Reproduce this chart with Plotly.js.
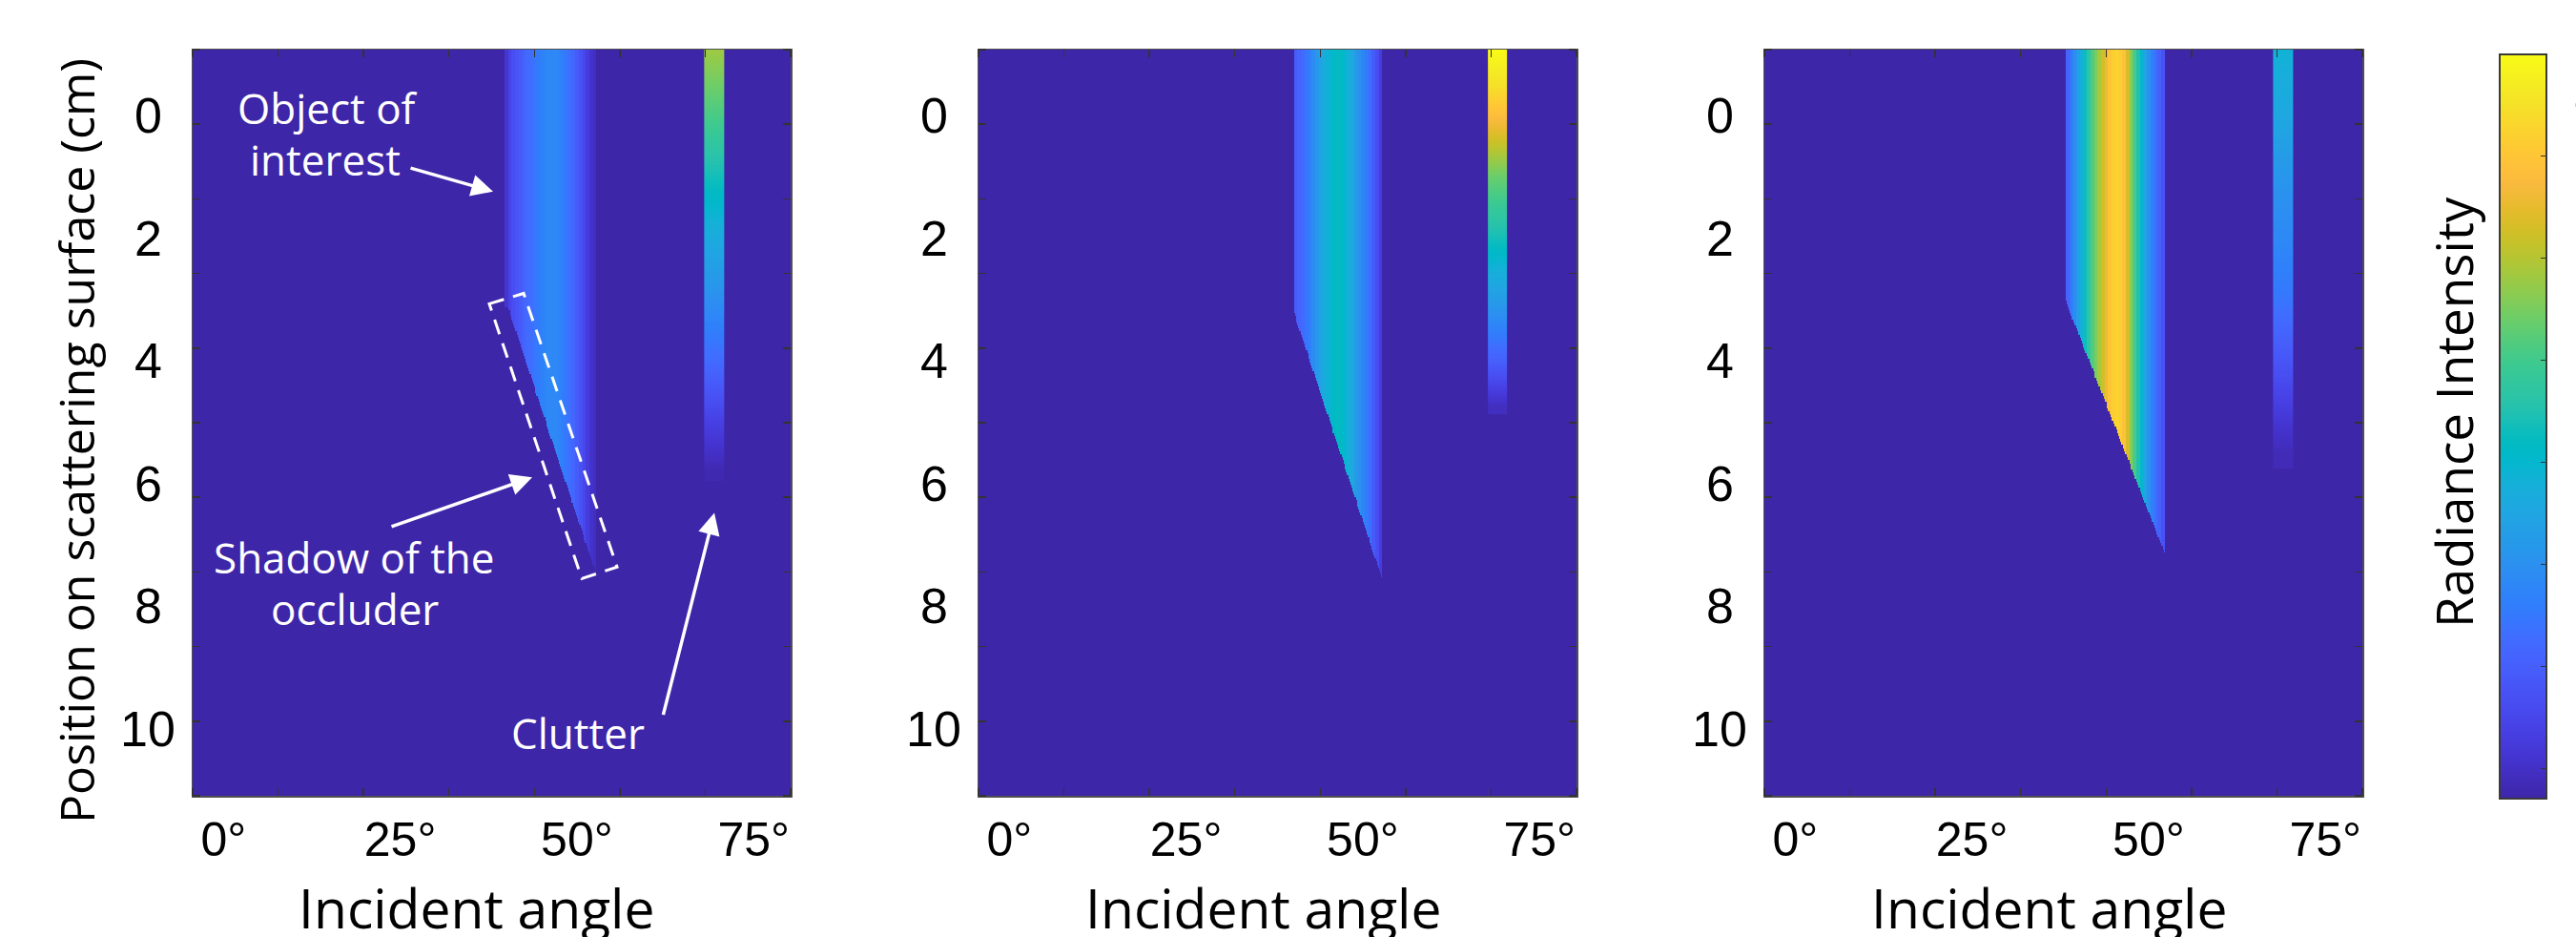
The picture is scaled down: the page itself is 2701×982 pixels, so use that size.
<!DOCTYPE html>
<html><head><meta charset="utf-8">
<script src="https://cdn.plot.ly/plotly-3.0.1.min.js"></script>
<style>html,body{margin:0;padding:0;background:#fff;overflow:hidden}#chart{width:2701px;height:982px;}</style>
</head><body><div id="chart"></div>
<script>
// ---------------- data ----------------
const xTickVals = [0, 25, 50, 75];
const xTickText = ['0°', '25°', '50°', '75°'];
const yTickVals = [0, 2, 4, 6, 8, 10];
const yTickText = ['0', '2', '4', '6', '8', '10'];

// angular profile of the object band (deg) and its intensity in each panel
const bandAngles = [38.0,38.5,39.0,39.5,40.0,40.5,41.0,41.5,42.0,42.5,43.0,43.5,44.0,44.5,45.0,45.5,46.0,46.5,47.0,47.5,48.0,48.5,49.0,49.5,50.0,50.5,51.0,51.5,52.0,52.5,53.0];
const band1 = [0,0,0,0,0.06,0.10,0.13,0.15,0.17,0.19,0.21,0.22,0.24,0.25,0.27,0.28,0.29,0.29,0.29,0.28,0.26,0.24,0.22,0.20,0.17,0.14,0.11,0.08,0.05,0.03,0];
const band2 = [0,0,0,0,0,0.17,0.19,0.21,0.24,0.27,0.30,0.34,0.37,0.40,0.43,0.45,0.47,0.48,0.47,0.45,0.42,0.39,0.35,0.32,0.28,0.25,0.22,0.17,0.13,0.08,0];
const band3 = [0,0.19,0.24,0.30,0.36,0.42,0.49,0.55,0.61,0.66,0.71,0.76,0.81,0.86,0.89,0.90,0.89,0.85,0.77,0.68,0.60,0.52,0.45,0.38,0.31,0.27,0.22,0.18,0.14,0,0];
// occluder shadow edge: [angle start, position start, angle end, position end]
const shadowEdge1 = [40.3, 3.15, 52.6, 7.45];
const shadowEdge2 = [40.2, 3.20, 52.6, 7.52];
const shadowEdge3 = [38.3, 3.04, 52.4, 7.18];

// clutter column: angular extent, positions and intensities
const clutterX1 = [68.0, 70.8];
const clutterX2 = [67.7, 70.4];
const clutterX3 = [67.6, 70.4];
const clutterPos1 = [-1.07, 0, 1, 2, 3, 4, 5, 5.5, 5.8];
const clutterVal1 = [0.70, 0.60, 0.50, 0.40, 0.31, 0.21, 0.09, 0.04, 0.01];
const clutterPos2 = [-1.07, -0.5, 0, 1, 2, 3, 4, 4.5, 4.75];
const clutterVal2 = [1.00, 0.93, 0.84, 0.64, 0.50, 0.35, 0.18, 0.08, 0.03];
const clutterPos3 = [-1.07, 0, 1, 2, 3, 4, 5, 5.5];
const clutterVal3 = [0.43, 0.39, 0.33, 0.29, 0.24, 0.15, 0.06, 0.02];

// ---------------- colormap (MATLAB parula, 64) ----------------
const parula = [[0.2422,0.1504,0.6603],[0.2504,0.1650,0.7076],[0.2578,0.1818,0.7511],[0.2647,0.1978,0.7952],[0.2706,0.2147,0.8364],[0.2751,0.2342,0.8710],[0.2783,0.2559,0.8991],[0.2803,0.2782,0.9221],[0.2813,0.3006,0.9414],[0.2810,0.3228,0.9579],[0.2795,0.3447,0.9717],[0.2760,0.3667,0.9829],[0.2699,0.3892,0.9906],[0.2602,0.4123,0.9952],[0.2440,0.4358,0.9988],[0.2206,0.4603,0.9973],[0.1963,0.4847,0.9892],[0.1834,0.5074,0.9798],[0.1786,0.5289,0.9682],[0.1764,0.5499,0.9520],[0.1687,0.5703,0.9359],[0.1540,0.5902,0.9218],[0.1460,0.6091,0.9079],[0.1380,0.6276,0.8973],[0.1248,0.6459,0.8883],[0.1113,0.6635,0.8763],[0.0952,0.6798,0.8598],[0.0689,0.6948,0.8394],[0.0297,0.7082,0.8163],[0.0036,0.7203,0.7917],[0.0067,0.7312,0.7660],[0.0433,0.7411,0.7394],[0.0964,0.7500,0.7120],[0.1408,0.7584,0.6842],[0.1717,0.7670,0.6554],[0.1938,0.7758,0.6251],[0.2161,0.7843,0.5923],[0.2470,0.7918,0.5567],[0.2906,0.7973,0.5188],[0.3406,0.8008,0.4789],[0.3909,0.8029,0.4354],[0.4456,0.8024,0.3909],[0.5044,0.7993,0.3480],[0.5616,0.7942,0.3045],[0.6174,0.7876,0.2612],[0.6720,0.7793,0.2227],[0.7242,0.7698,0.1910],[0.7738,0.7598,0.1646],[0.8203,0.7498,0.1535],[0.8634,0.7406,0.1596],[0.9035,0.7330,0.1774],[0.9393,0.7288,0.2100],[0.9728,0.7298,0.2394],[0.9956,0.7434,0.2371],[0.9970,0.7659,0.2199],[0.9952,0.7893,0.2028],[0.9892,0.8136,0.1885],[0.9786,0.8386,0.1766],[0.9676,0.8639,0.1643],[0.9610,0.8890,0.1537],[0.9597,0.9135,0.1423],[0.9628,0.9373,0.1265],[0.9691,0.9606,0.1064],[0.9769,0.9839,0.0805]];
const rgb = c => 'rgb(' + c.map(v => Math.round(v * 255)).join(',') + ')';
const colorscale = parula.map((c, i) => [i / (parula.length - 1), rgb(c)]);
const BG = rgb(parula[0]);

// ---------------- geometry of the figure ----------------
const W = 2701, H = 982;
const px = v => v / W, py = v => 1 - v / H;
const panelsPx = [[202, 829], [1026, 1653], [1850, 2477]];
const plotTop = 52, plotBottom = 834;
const xRange = [-4.36, 80.23];
const yRange = [11.09, -1.073];

// display grid for the band: rows in cm, each 0.5° column split in 4 (values repeated)
const rowY = [];
for (let k = 0; k <= 182; k++) rowY.push(Math.round((-1.1 + k * 0.05) * 100) / 100);
const SUB = 4;
const subX = [], subIdx = [];
bandAngles.forEach((a, i) => { for (let j = 0; j < SUB; j++) { subX.push(a - 0.25 + (j + 0.5) * 0.5 / SUB); subIdx.push(i); } });

function bandZ(vals, edge) {
  const [xs, ys, xe, ye] = edge;
  return rowY.map(y => subX.map((x, k) => {
    if (y > ye) return null;
    if (y >= ys) {
      const xc = xs + (y - ys) * (xe - xs) / (ye - ys);
      if (x < xc) return null;
    }
    return vals[subIdx[k]];
  }));
}
function clutterTrace(xr, pos, vals, xa, ya) {
  const w = (xr[1] - xr[0]) / 2;
  return {type: 'heatmap', x: [xr[0] + w / 2, xr[1] - w / 2], y: pos, z: vals.map(v => [v, v]),
    colorscale, zmin: 0, zmax: 1, zsmooth: 'best', showscale: false, hoverinfo: 'skip', xaxis: xa, yaxis: ya};
}

const bands = [band1, band2, band3];
const edges = [shadowEdge1, shadowEdge2, shadowEdge3];
const clX = [clutterX1, clutterX2, clutterX3];
const clP = [clutterPos1, clutterPos2, clutterPos3];
const clV = [clutterVal1, clutterVal2, clutterVal3];

const traces = [];
for (let p = 0; p < 3; p++) {
  const xa = p === 0 ? 'x' : 'x' + (p + 1), ya = p === 0 ? 'y' : 'y' + (p + 1);
  traces.push({type: 'heatmap', x: subX, y: rowY, z: bandZ(bands[p], edges[p]),
    colorscale, zmin: 0, zmax: 1, zsmooth: false, hoverinfo: 'skip', xaxis: xa, yaxis: ya,
    showscale: p === 2,
    colorbar: {x: px(2621), xanchor: 'left', xpad: 0, ypad: 0, y: py(447), yanchor: 'middle',
      thickness: 49, thicknessmode: 'pixels', len: 780, lenmode: 'pixels',
      outlinecolor: '#3a3a3a', outlinewidth: 2, ticks: 'inside', ticklen: 7, tickcolor: '#333',
      tickmode: 'linear', tick0: 1, dtick: 0.137, showticklabels: false}});
  traces.push(clutterTrace(clX[p], clP[p], clV[p], xa, ya));
}

const tickFont = {family: 'Liberation Sans, Arial, sans-serif', size: 50, color: '#000'};
const layout = {width: W, height: H, margin: {l: 0, r: 0, t: 0, b: 0},
  paper_bgcolor: '#fff', plot_bgcolor: BG, showlegend: false, annotations: [], shapes: []};

for (let p = 0; p < 3; p++) {
  const s = p === 0 ? '' : String(p + 1);
  layout['xaxis' + s] = {domain: [px(panelsPx[p][0]), px(panelsPx[p][1])], anchor: 'y' + s,
    range: xRange, tickmode: 'array', tickvals: xTickVals, ticktext: xTickText, ticks: '',
    tickfont: tickFont, ticklabelstandoff: 1, showgrid: false, zeroline: false,
    showline: true, mirror: 'allticks', linecolor: '#505050', linewidth: 1.5,
    minor: {ticks: 'inside', tickmode: 'linear', tick0: -4.36, dtick: 12.084, ticklen: 8, tickcolor: '#333', tickwidth: 1.5, showgrid: false}};
  layout['yaxis' + s] = {domain: [py(plotBottom), py(plotTop)], anchor: 'x' + s,
    range: yRange, showticklabels: false, ticks: '', showgrid: false, zeroline: false,
    showline: true, mirror: 'allticks', linecolor: '#505050', linewidth: 1.5,
    minor: {ticks: 'inside', tickmode: 'linear', tick0: -1.073, dtick: 1.2163, ticklen: 8, tickcolor: '#333', tickwidth: 1.5, showgrid: false}};
  // y tick labels (centred, as in the reference)
  yTickVals.forEach((v, i) => layout.annotations.push({xref: 'paper', yref: 'y' + s, x: px(panelsPx[p][0] - 47), y: v,
    text: yTickText[i], showarrow: false, xanchor: 'center', yanchor: 'middle', font: {family: 'Liberation Sans, Arial, sans-serif', size: 52, color: '#000'}}));
  // x axis title
  layout.annotations.push({xref: 'paper', yref: 'paper', x: px((panelsPx[p][0] + panelsPx[p][1]) / 2 - 15), y: py(951),
    text: 'Incident angle', showarrow: false, xanchor: 'center', yanchor: 'middle', font: {family: 'Open Sans, sans-serif', size: 57, color: '#000'}});
}
// y axis title
layout.annotations.push({xref: 'paper', yref: 'paper', x: px(80), y: py(462), textangle: -90,
  text: 'Position on scattering surface (cm)', showarrow: false, xanchor: 'center', yanchor: 'middle', font: {family: 'Open Sans, sans-serif', size: 50, color: '#000'}});
// colorbar title
layout.annotations.push({xref: 'paper', yref: 'paper', x: px(2572), y: py(432), textangle: -90,
  text: 'Radiance Intensity', showarrow: false, xanchor: 'center', yanchor: 'middle', font: {family: 'Open Sans, sans-serif', size: 53, color: '#000'}});
layout.annotations.push({xref: 'paper', yref: 'paper', x: px(2695), y: py(95), text: '1', showarrow: false,
  xanchor: 'left', yanchor: 'middle', font: {family: 'Liberation Sans, Arial, sans-serif', size: 50, color: '#000'}});

// labels inside the first panel
const white = {family: 'Open Sans, sans-serif', size: 44, color: '#fff'};
const labels = [['Object of', 14.67, -0.13], ['interest', 14.4, 0.72], ['Shadow of the', 18.57, 7.2], ['occluder', 18.57, 8.04], ['Clutter', 50.1, 10.07]];
labels.forEach(l => layout.annotations.push({xref: 'x', yref: 'y', x: l[1], y: l[2], text: l[0], showarrow: false, xanchor: 'center', yanchor: 'middle', font: white}));
const arrows = [[38.14, 1.24, -88, -25], [43.67, 5.90, -149, 52], [69.44, 6.48, -54, 213]];
arrows.forEach(a => layout.annotations.push({xref: 'x', yref: 'y', x: a[0], y: a[1], ax: a[2], ay: a[3], axref: 'pixel', ayref: 'pixel',
  text: '', showarrow: true, arrowhead: 2, arrowsize: 1.3, arrowwidth: 3.5, arrowcolor: '#fff', standoff: 0}));
layout.shapes.push({type: 'path', xref: 'x', yref: 'y', path: 'M 37.6,3.07 L 42.46,2.90 L 55.68,7.36 L 50.69,7.55 Z',
  line: {color: '#fff', width: 3, dash: '16px,10px'}});

Plotly.newPlot('chart', traces, layout, {staticPlot: true, displayModeBar: false});
</script></body></html>
